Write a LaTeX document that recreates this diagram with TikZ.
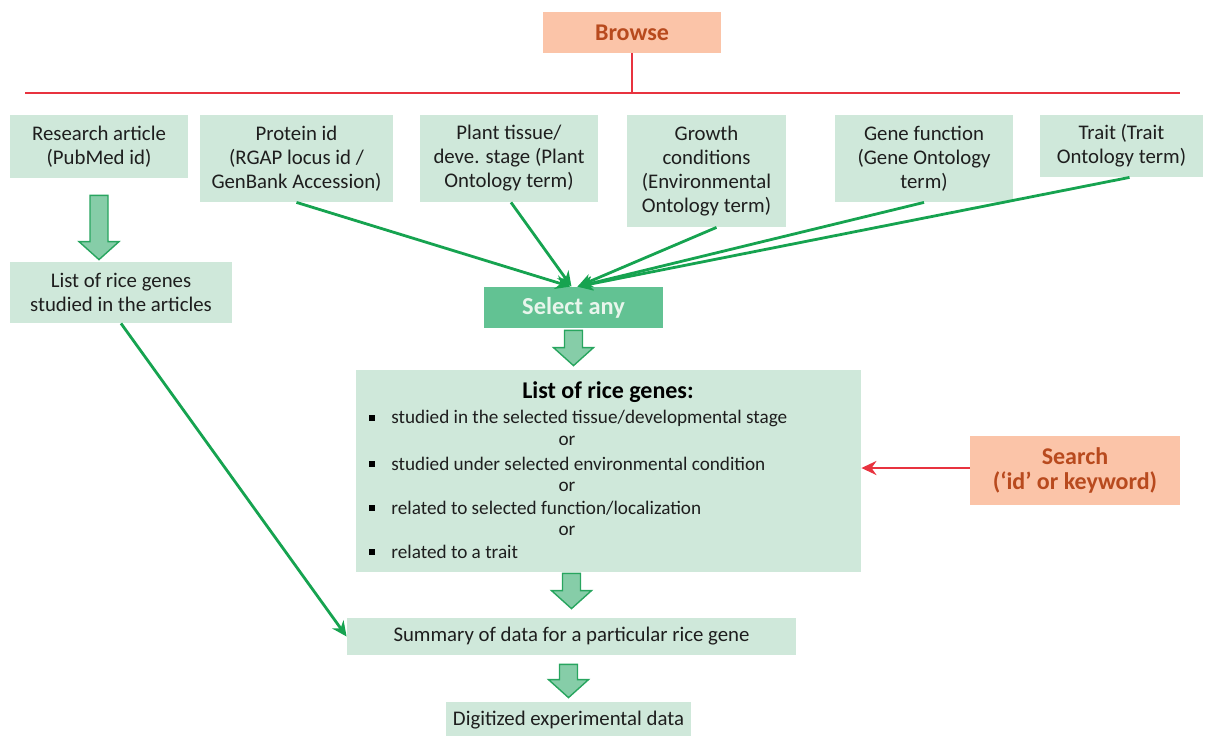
\documentclass[tikz,border=0pt]{standalone}
\usepackage{fontspec}
\setmainfont{Carlito}
\usetikzlibrary{arrows.meta,calc}

\definecolor{boxgreen}{RGB}{207,232,218}
\definecolor{selgreen}{RGB}{98,194,147}
\definecolor{seltext}{RGB}{232,245,236}
\definecolor{fatfill}{RGB}{134,205,168}
\definecolor{fatline}{RGB}{40,165,95}
\definecolor{linegreen}{RGB}{22,163,80}
\definecolor{salmon}{RGB}{251,196,168}
\definecolor{rusttext}{RGB}{184,74,30}
\definecolor{redline}{RGB}{232,51,63}
\definecolor{darktext}{RGB}{30,30,30}

\tikzset{
  box/.style={fill=boxgreen, text=darktext, align=center, inner sep=0pt,
    font=\fontsize{10.4}{12}\selectfont},
  orangebox/.style={fill=salmon, text=rusttext, align=center, inner sep=0pt,
    font=\bfseries\fontsize{12}{12.5}\selectfont},
  selbox/.style={fill=selgreen, text=seltext, inner sep=0pt,
    font=\bfseries\fontsize{12.2}{13}\selectfont},
  item/.style={anchor=west, inner sep=0pt, text=darktext,
    font=\fontsize{9.6}{10}\selectfont},
  ortext/.style={inner sep=0pt, text=darktext, font=\fontsize{9.6}{10}\selectfont},
  bulletsq/.style={fill=black, inner sep=0pt, minimum size=2.7pt},
  greenarrow/.style={draw=linegreen, line width=1.4pt, -{Stealth[length=7.5pt,width=7pt]}},
  redarrow/.style={draw=redline, line width=1.4pt, -{Stealth[length=7.5pt,width=7pt]}},
  redrule/.style={draw=redline, line width=1.3pt},
  fatarrow/.style={draw=fatline, fill=fatfill, line width=0.7pt, line join=miter}
}

% block arrow: source point, gap below it, target point, gap above it
\newcommand{\fatarrow}[4]{%
  \draw[fatarrow] ($(#1)+(-9,#2)$) -- ($(#1)+(9,#2)$) -- ($(#3)+(9,-#4-18)$)
    -- ($(#3)+(20,-#4-18)$) -- ($(#3)+(0,-#4)$) -- ($(#3)+(-20,-#4-18)$)
    -- ($(#3)+(-9,-#4-18)$) -- cycle;}

\begin{document}
\begin{tikzpicture}[x=0.5pt, y=-0.5pt]
\useasboundingbox (0,0) rectangle (1209,735);

% browse bar
\node[orangebox, minimum width=89pt, minimum height=20.5pt] (browse) at (632,32.5) {Browse};
\coordinate (barl) at (25,93);
\coordinate (barr) at (1180,93);
\draw[redrule] (browse.south) -- (browse.south |- barl);
\draw[redrule] (barl) -- (barr);

% browse options
\node[box, minimum width=89pt, minimum height=31.5pt]   (ra)     at (99,146.5)   {Research article\\(PubMed id)};
\node[box, minimum width=96.5pt, minimum height=43.5pt] (prot)   at (296.5,158.5) {Protein id\\(RGAP locus id /\\GenBank Accession)};
\node[box, minimum width=89pt, minimum height=43.5pt]   (tissue) at (509,158.5)  {Plant tissue/\\deve. stage (Plant\\Ontology term)};
\node[box, minimum width=79.5pt, minimum height=56pt]   (growth) at (706.5,171)  {Growth\\conditions\\(Environmental\\Ontology term)};
\node[box, minimum width=89pt, minimum height=43.5pt]   (func)   at (924,158.5)  {Gene function\\(Gene Ontology\\term)};
\node[box, minimum width=81.5pt, minimum height=31pt]   (trait)  at (1121.5,146) {Trait (Trait\\Ontology term)};

\node[box, minimum width=111pt, minimum height=30.5pt]  (artlist) at (121,292.5) {List of rice genes\\studied in the articles};
\node[selbox, minimum width=89.5pt, minimum height=20.5pt] (sel) at (573.5,307.5) {Select any};

% gene list
\node[box, minimum width=252.5pt, minimum height=101pt] (genes) at (608.5,471) {};
\node[inner sep=0pt, text=black, font=\bfseries\fontsize{12}{13}\selectfont] (title) at (608,392) {List of rice genes:};
\node[item] (g1) at (391,418) {studied in the selected tissue/developmental stage};
\node[ortext] (or1) at (567,441) {or};
\node[item] (g2) at (391,464) {studied under selected environmental condition};
\node[ortext] (or2) at (567,487) {or};
\node[item] (g3) at (391,508) {related to selected function/localization};
\node[ortext] (or3) at (567,531) {or};
\node[item] (g4) at (391,552) {related to a trait};
\foreach \y in {418,464,508,552}
  \node[bulletsq] at (372,\y) {};

\node[orangebox, minimum width=105pt, minimum height=34.5pt] (search) at (1075,470.5) {Search\\(‘id’ or keyword)};

\node[box, minimum width=224.5pt, minimum height=18.5pt] (summary) at (571.5,636.5) {Summary of data for a particular rice gene};
\node[box, minimum width=122.5pt, minimum height=18.5pt] (digit)   at (568.5,720.5) {Digitized experimental data};

% connectors
\draw[greenarrow] (prot.south) -- ([xshift=-1.5pt]sel.north);
\draw[greenarrow] ([xshift=1pt]tissue.south) -- ([xshift=-1pt]sel.north);
\draw[greenarrow] ([xshift=5pt]growth.south) -- ([xshift=2pt]sel.north);
\draw[greenarrow] (func.south) -- ([xshift=2pt]sel.north);
\draw[greenarrow] ([xshift=4pt]trait.south) -- ([xshift=2pt]sel.north);
\draw[greenarrow] (artlist.south) -- (summary.west);
\draw[redarrow] (search.west |- 0,468) -- (genes.east |- 0,468);

\fatarrow{ra.south}{17}{artlist.north -| ra.south}{2}
\fatarrow{sel.south}{2}{genes.north -| sel.south}{4}
\fatarrow{genes.south -| summary.north}{1}{summary.north}{9}
\fatarrow{summary.south -| digit.north}{9}{digit.north}{4}
\end{tikzpicture}
\end{document}
